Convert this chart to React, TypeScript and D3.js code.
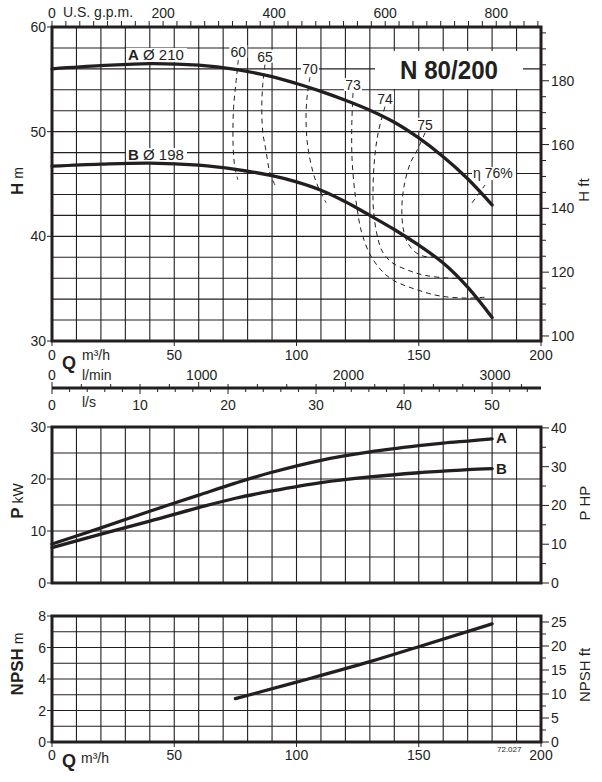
import React from 'react';
import * as d3 from 'd3';

// ---------- data ----------
const qHead = [0, 20, 40, 60, 75, 90, 100, 110, 120, 130, 140, 150, 160, 170, 180];
const headA = [56.0, 56.3, 56.5, 56.35, 55.95, 55.25, 54.6, 53.85, 53.0, 52.05, 50.9, 49.4, 47.6, 45.5, 43.0];
const headB = [46.7, 46.9, 47.0, 46.8, 46.4, 45.8, 45.2, 44.4, 43.3, 42.0, 40.65, 39.15, 37.45, 35.15, 32.25];

const qPower = [0, 20, 40, 60, 75, 90, 110, 130, 150, 160, 170, 180];
const powerA = [7.5, 10.6, 13.8, 16.9, 19.2, 21.3, 23.6, 25.2, 26.4, 26.9, 27.3, 27.7];
const powerB = [6.8, 9.4, 11.9, 14.5, 16.3, 17.7, 19.3, 20.4, 21.2, 21.5, 21.8, 22.0];

const qNpsh = [75, 100, 130, 150, 180];
const npshM = [2.75, 3.8, 5.1, 6.05, 7.5];

// efficiency iso-curves: [Q m3/h, H m]
const eta60 = [[76.2, 56.85], [75.2, 54.6], [74.3, 52.4], [74.0, 50.0], [74.2, 48.0], [74.8, 46.6], [76.0, 45.4]];
const eta65 = [[87.1, 56.4], [86.2, 54.5], [85.8, 52.4], [86.2, 50.0], [87.5, 48.2], [89.2, 46.0], [91.2, 44.9]];
const eta70 = [[105.5, 55.2], [104.4, 53.5], [103.9, 51.5], [104.2, 49.5], [105.0, 48.0], [106.9, 46.0], [108.9, 44.7], [112.1, 43.2]];
const eta73 = [[123.1, 53.7], [122.6, 50.5], [122.7, 47.5], [123.5, 45.0], [124.7, 42.8], [126.5, 40.5], [130.0, 38.3], [134.5, 36.8], [139.6, 35.8], [149.2, 34.9], [158.7, 34.3], [169.6, 34.1], [177.8, 34.2]];
const eta74 = [[136.2, 52.4], [133.5, 50.0], [132.0, 47.6], [131.3, 44.5], [131.5, 42.5], [132.8, 40.3], [135.0, 38.6], [139.0, 37.5], [145.2, 36.8], [152.0, 36.3], [162.8, 36.0], [171.0, 36.0]];
const eta75 = [[152.6, 49.9], [149.5, 48.3], [146.4, 46.9], [144.0, 44.8], [143.1, 42.8], [143.6, 40.8], [145.4, 39.4], [148.5, 38.5], [152.0, 38.1], [156.0, 38.0], [161.5, 38.0]];
const eta76 = [[171.8, 43.2], [177.1, 44.9]];
const etaCurves = [eta60, eta65, eta70, eta73, eta74, eta75];
const etaLabels = ['60', '65', '70', '73', '74', '75'];

const qTicks = [0, 50, 100, 150, 200];
const hTicks = [30, 40, 50, 60];
const hFtTicks = [100, 120, 140, 160, 180];
const gpmTicks = [0, 200, 400, 600, 800];
const lminTicks = [1000, 2000, 3000];
const lsTicks = [10, 20, 30, 40, 50];
const pTicks = [0, 10, 20, 30];
const hpTicks = [0, 10, 20, 30, 40];
const npshTicks = [0, 2, 4, 6, 8];
const npshFtTicks = [0, 5, 10, 15, 20, 25];

const FONT = "'Liberation Sans', Arial, Helvetica, sans-serif";
const INK = '#231f20';

export default function App() {
  const x = d3.scaleLinear().domain([0, 200]).range([52, 541]);
  const yH = d3.scaleLinear().domain([30, 60]).range([341, 27]);
  const yHft = d3.scaleLinear().domain([30 / 0.3048, 60 / 0.3048]).range([341, 27]);
  const yP = d3.scaleLinear().domain([0, 30]).range([583, 427]);
  const yHP = d3.scaleLinear().domain([0, 30 * 1.341]).range([583, 427]);
  const yN = d3.scaleLinear().domain([0, 8]).range([742, 616]);
  const yNft = d3.scaleLinear().domain([0, 8 / 0.3048]).range([742, 616]);
  const xGpm = d3.scaleLinear().domain([0, 200 / 0.227125]).range([52, 541]);
  const xLmin = d3.scaleLinear().domain([0, (200 * 1000) / 60]).range([52, 541]);
  const xLs = d3.scaleLinear().domain([0, 200 / 3.6]).range([52, 541]);

  const panels = [
    { y: yH, grid: d3.range(30, 60.01, 2) },
    { y: yP, grid: d3.range(0, 30.01, 5) },
    { y: yN, grid: d3.range(0, 8.01, 1) },
  ];
  const vGrid = d3.range(10, 200, 10);

  const headLine = (vals: number[]) =>
    d3.line<number>().x((_, i) => x(qHead[i])).y((d) => yH(d)).curve(d3.curveCatmullRom.alpha(0.5))(vals) || '';
  const powerLine = (vals: number[]) =>
    d3.line<number>().x((_, i) => x(qPower[i])).y((d) => yP(d)).curve(d3.curveCatmullRom.alpha(0.5))(vals) || '';
  const npshLine =
    d3.line<number>().x((_, i) => x(qNpsh[i])).y((d) => yN(d)).curve(d3.curveMonotoneX)(npshM) || '';
  const effLine = d3
    .line<number[]>()
    .x((d) => x(d[0]))
    .y((d) => yH(d[1]))
    .curve(d3.curveCatmullRom.alpha(0.5));

  const txt = { fontFamily: FONT, fill: INK } as const;

  const aEnd = [x(qPower[qPower.length - 1]), yP(powerA[powerA.length - 1])];
  const bEnd = [x(qPower[qPower.length - 1]), yP(powerB[powerB.length - 1])];
  const e76 = eta76[eta76.length - 1];

  return (
    <svg width={602} height={782} style={{ position: 'absolute', left: 0, top: 0 }}>
      <rect width={602} height={782} fill="#fff" />

      {/* grids */}
      {panels.map((p, pi) => {
        const [y0, y1] = p.y.range();
        return (
          <g key={pi} stroke={INK} strokeWidth={1.1}>
            {vGrid.map((q) => (
              <line key={'v' + q} x1={x(q)} x2={x(q)} y1={y0} y2={y1} />
            ))}
            {p.grid.map((g) => (
              <line key={'h' + g} x1={x(0)} x2={x(200)} y1={p.y(g)} y2={p.y(g)} />
            ))}
          </g>
        );
      })}

      {/* title box */}
      <rect x={375} y={51} width={148} height={38} fill="#fff" />
      <text x={449} y={79} textAnchor="middle" fontSize={26} fontWeight="bold" textLength={98} lengthAdjust="spacingAndGlyphs" {...txt}>
        N 80/200
      </text>

      {/* curve label backgrounds */}
      <rect x={126} y={yH(56.85) - 12} width={61} height={14} fill="#fff" />
      <rect x={126} y={yH(47.29) - 12} width={61} height={14} fill="#fff" />
      {etaCurves.map((c, i) => (
        <rect key={'lb' + i} x={x(c[0][0]) - 9} y={yH(c[0][1]) - 15} width={18} height={13} fill="#fff" />
      ))}
      <rect x={x(e76[0]) - 13} y={yH(e76[1]) - 18} width={44} height={13} fill="#fff" />

      {/* efficiency curves */}
      <g fill="none" stroke={INK} strokeWidth={1} strokeDasharray="5,4">
        {etaCurves.map((c, i) => (
          <path key={'e' + i} d={effLine(c as number[][]) || ''} />
        ))}
        <path d={effLine(eta76 as number[][]) || ''} />
      </g>
      {etaCurves.map((c, i) => (
        <text key={'el' + i} x={x(c[0][0])} y={yH(c[0][1]) - 3} textAnchor="middle" fontSize={14} {...txt}>
          {etaLabels[i]}
        </text>
      ))}
      <text x={x(e76[0]) - 12} y={yH(e76[1]) - 7} fontSize={14} {...txt}>
        η 76%
      </text>

      {/* main curves */}
      <g fill="none" stroke={INK} strokeWidth={3.3} strokeLinecap="round">
        <path d={headLine(headA)} />
        <path d={headLine(headB)} />
        <path d={powerLine(powerA)} />
        <path d={powerLine(powerB)} />
        <path d={npshLine} />
      </g>

      <text x={128} y={yH(56.85)} fontSize={15} {...txt}>
        <tspan fontWeight="bold">A</tspan> Ø 210
      </text>
      <text x={128} y={yH(47.29)} fontSize={15} {...txt}>
        <tspan fontWeight="bold">B</tspan> Ø 198
      </text>
      <text x={aEnd[0] + 4} y={aEnd[1] + 4} fontSize={15} fontWeight="bold" {...txt}>A</text>
      <text x={bEnd[0] + 4} y={bEnd[1] + 5} fontSize={15} fontWeight="bold" {...txt}>B</text>

      {/* panel borders */}
      {panels.map((p, pi) => {
        const [y0, y1] = p.y.range();
        return (
          <rect key={'b' + pi} x={x(0)} y={y1} width={x(200) - x(0)} height={y0 - y1} fill="none" stroke={INK} strokeWidth={3} />
        );
      })}

      {/* top gpm axis */}
      <g stroke={INK} strokeWidth={1}>
        {d3.range(0, 881, 25).map((g) => (
          <line key={'gt' + g} x1={xGpm(g)} x2={xGpm(g)} y1={26} y2={21} />
        ))}
      </g>
      {gpmTicks.map((g) => (
        <text key={'g' + g} x={xGpm(g)} y={18} textAnchor="middle" fontSize={14} {...txt}>
          {g}
        </text>
      ))}
      <text x={63} y={17} fontSize={14} {...txt}>U.S. g.p.m.</text>

      {/* left H axis */}
      <g stroke={INK} strokeWidth={1}>
        {hTicks.map((h) => (
          <line key={'ht' + h} x1={47} x2={52} y1={yH(h)} y2={yH(h)} />
        ))}
        {d3.range(100, 196, 5).map((f) => (
          <line key={'ft' + f} x1={541} x2={f % 20 === 0 ? 549 : 546} y1={yHft(f)} y2={yHft(f)} />
        ))}
      </g>
      {hTicks.map((h) => (
        <text key={'hl' + h} x={46} y={yH(h) + 5} textAnchor="end" fontSize={14} {...txt}>
          {h}
        </text>
      ))}
      {hFtTicks.map((f) => (
        <text key={'fl' + f} x={551} y={yHft(f) + 5} fontSize={14} {...txt}>
          {f}
        </text>
      ))}
      <text transform="translate(23,181) rotate(-90)" textAnchor="middle" fontSize={14} {...txt}>
        <tspan fontWeight="bold" fontSize={17}>H</tspan> m
      </text>
      <text transform="translate(589,190) rotate(-90)" textAnchor="middle" fontSize={15} {...txt}>
        H ft
      </text>

      {/* Q axis under top panel */}
      <g stroke={INK} strokeWidth={1}>
        {qTicks.map((q) => (
          <line key={'qt' + q} x1={x(q)} x2={x(q)} y1={342} y2={346} />
        ))}
      </g>
      {qTicks.map((q) => (
        <text key={'q1' + q} x={x(q)} y={360} textAnchor="middle" fontSize={14} {...txt}>
          {q}
        </text>
      ))}
      <text x={62} y={369} fontSize={18} fontWeight="bold" {...txt}>Q</text>
      <text x={82} y={360} fontSize={14} {...txt}>m³/h</text>

      {/* l/min and l/s axis */}
      <line x1={x(0)} x2={x(200)} y1={388} y2={388} stroke={INK} strokeWidth={3} />
      <g stroke={INK} strokeWidth={1}>
        {d3.range(0, 3334, 200).map((l) => (
          <line key={'lm' + l} x1={xLmin(l)} x2={xLmin(l)} y1={388} y2={l % 1000 === 0 ? 382 : 384} />
        ))}
        {d3.range(0, 55.6, 2).map((l) => (
          <line key={'ls' + l} x1={xLs(l)} x2={xLs(l)} y1={388} y2={l % 10 === 0 ? 394 : 392} />
        ))}
      </g>
      <text x={x(0)} y={380} textAnchor="middle" fontSize={14} {...txt}>0</text>
      <text x={82} y={380} fontSize={14} {...txt}>l/min</text>
      {lminTicks.map((l) => (
        <text key={'lml' + l} x={xLmin(l) + 3} y={380} textAnchor="middle" fontSize={14} {...txt}>
          {l}
        </text>
      ))}
      <text x={x(0)} y={410} textAnchor="middle" fontSize={14} {...txt}>0</text>
      <text x={82} y={407} fontSize={14} {...txt}>l/s</text>
      {lsTicks.map((l) => (
        <text key={'lsl' + l} x={xLs(l)} y={410} textAnchor="middle" fontSize={14} {...txt}>
          {l}
        </text>
      ))}

      {/* middle P axis */}
      <g stroke={INK} strokeWidth={1}>
        {pTicks.map((p) => (
          <line key={'pt' + p} x1={47} x2={52} y1={yP(p)} y2={yP(p)} />
        ))}
        {d3.range(0, 40.1, 5).map((h) => (
          <line key={'hpt' + h} x1={541} x2={h % 10 === 0 ? 549 : 546} y1={yHP(h)} y2={yHP(h)} />
        ))}
      </g>
      {pTicks.map((p) => (
        <text key={'pl' + p} x={46} y={yP(p) + 5} textAnchor="end" fontSize={14} {...txt}>
          {p}
        </text>
      ))}
      {hpTicks.map((h) => (
        <text key={'hpl' + h} x={551} y={yHP(h) + 5} fontSize={14} {...txt}>
          {h}
        </text>
      ))}
      <text transform="translate(23,501) rotate(-90)" textAnchor="middle" fontSize={14} {...txt}>
        <tspan fontWeight="bold" fontSize={17}>P</tspan> kW
      </text>
      <text transform="translate(590,503) rotate(-90)" textAnchor="middle" fontSize={15} {...txt}>
        P HP
      </text>

      {/* bottom NPSH axis */}
      <g stroke={INK} strokeWidth={1}>
        {npshTicks.map((n) => (
          <line key={'nt' + n} x1={47} x2={52} y1={yN(n)} y2={yN(n)} />
        ))}
        {d3.range(0, 26.1, 2.5).map((f) => (
          <line key={'nft' + f} x1={541} x2={f % 5 === 0 ? 549 : 546} y1={yNft(f)} y2={yNft(f)} />
        ))}
        {qTicks.map((q) => (
          <line key={'qb' + q} x1={x(q)} x2={x(q)} y1={743} y2={747} />
        ))}
      </g>
      {npshTicks.map((n) => (
        <text key={'nl' + n} x={46} y={yN(n) + 5} textAnchor="end" fontSize={14} {...txt}>
          {n}
        </text>
      ))}
      {npshFtTicks.map((f) => (
        <text key={'nfl' + f} x={551} y={yNft(f) + 5} fontSize={14} {...txt}>
          {f}
        </text>
      ))}
      <text transform="translate(23,664) rotate(-90)" textAnchor="middle" fontSize={14} {...txt}>
        <tspan fontWeight="bold" fontSize={17}>NPSH</tspan> m
      </text>
      <text transform="translate(590,675) rotate(-90)" textAnchor="middle" fontSize={15} {...txt}>
        NPSH ft
      </text>
      {qTicks.map((q) => (
        <text key={'q2' + q} x={x(q)} y={760} textAnchor="middle" fontSize={14} {...txt}>
          {q}
        </text>
      ))}
      <text x={62} y={767} fontSize={18} fontWeight="bold" {...txt}>Q</text>
      <text x={81} y={763} fontSize={14} {...txt}>m³/h</text>
      <text x={497} y={752} fontSize={8} {...txt}>72.027</text>
    </svg>
  );
}
